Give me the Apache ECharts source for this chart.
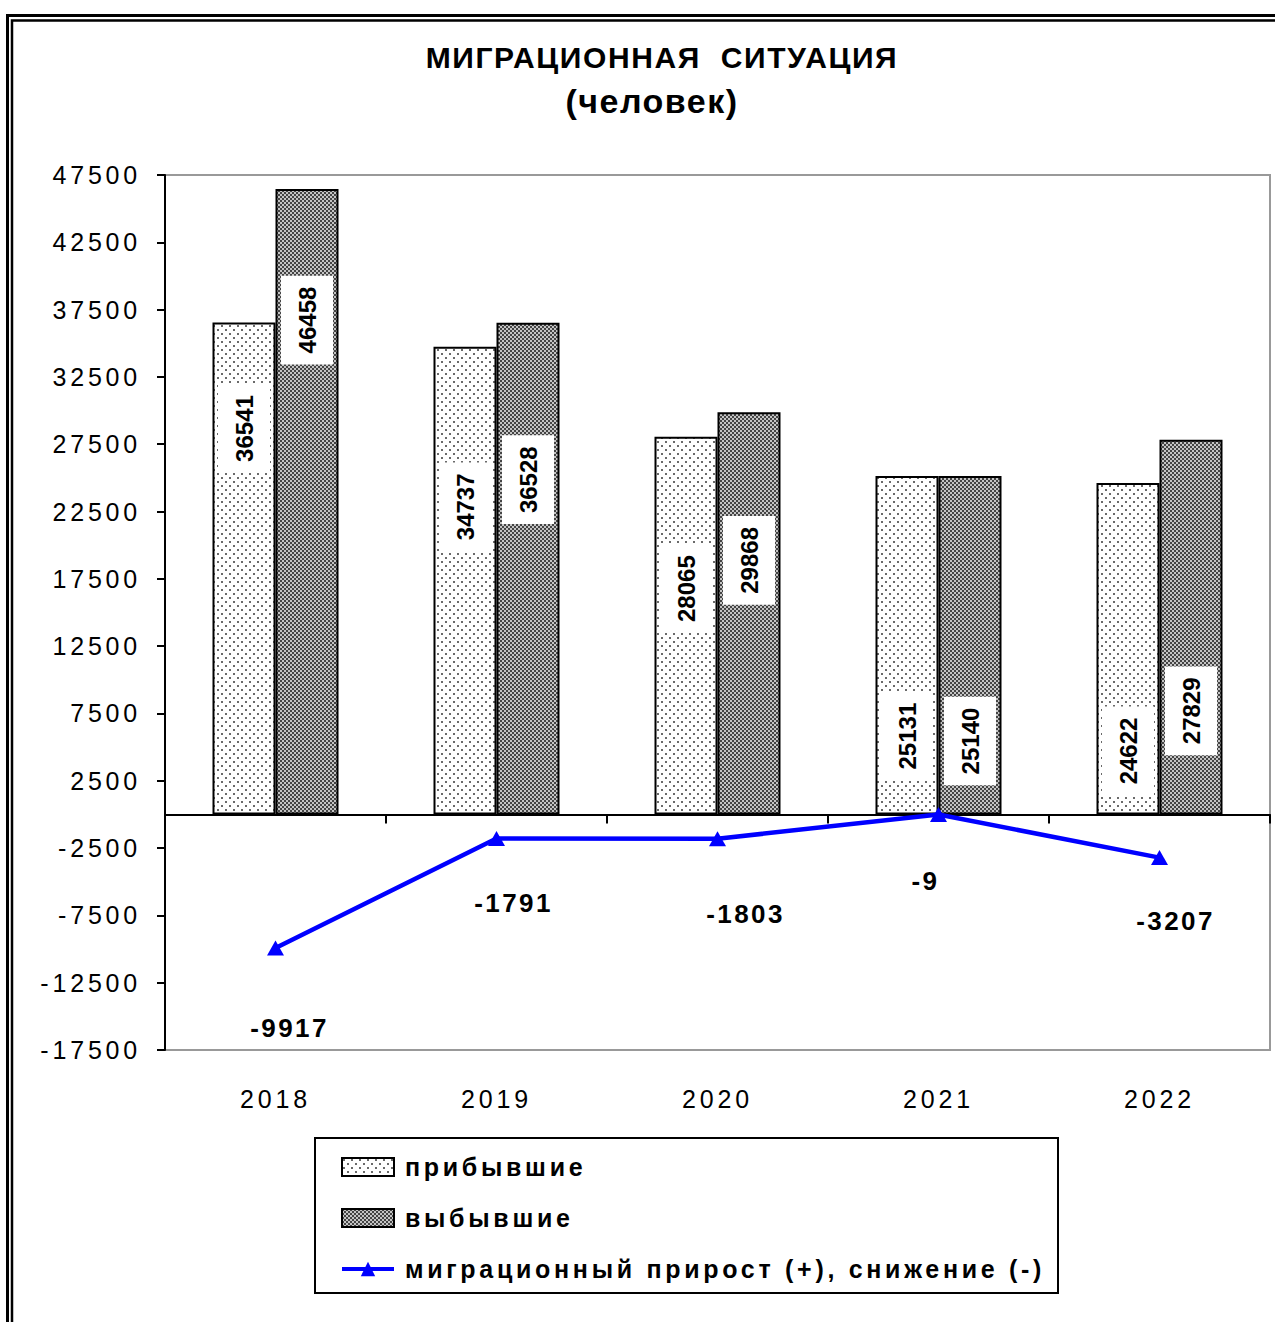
<!DOCTYPE html>
<html><head><meta charset="utf-8">
<script src="https://cdn.jsdelivr.net/npm/echarts@6/dist/echarts.min.js"></script>
<style>html,body{margin:0;padding:0;background:#fff}#chart{width:1275px;height:1322px}</style>
</head><body><div id="chart"></div>
<script>
// ---------- data ----------
const categories = ['2018', '2019', '2020', '2021', '2022'];
const arrived = [36541, 34737, 28065, 25131, 24622];
const departed = [46458, 36528, 29868, 25140, 27829];
const netMigration = [-9917, -1791, -1803, -9, -3207];
const yTickValues = [-17500, -12500, -7500, -2500, 2500, 7500, 12500, 17500, 22500, 27500, 32500, 37500, 42500, 47500];
const seriesNames = ['прибывшие', 'выбывшие', 'миграционный прирост (+), снижение (-)'];
const titleText = 'МИГРАЦИОННАЯ  СИТУАЦИЯ';
const subtitleText = '(человек)';

// ---------- label placement (style only) ----------
const arrivedLabelDrop = [106, 160, 152, 260, 268];
const departedLabelDrop = [131, 157, 148, 265, 271];
const netLabelOffset = [[14, 80], [17, 64], [28, 75], [-13, 66], [16, 63]];

const FONT = '"Liberation Sans", Arial, sans-serif';

function dotPattern() {
  const c = document.createElement('canvas'); c.width = 8; c.height = 8;
  const x = c.getContext('2d');
  x.fillStyle = '#ffffff'; x.fillRect(0, 0, 8, 8);
  x.fillStyle = '#6a6a6a'; x.fillRect(1, 1, 2, 2); x.fillRect(5, 5, 2, 2);
  return c;
}
function checkPattern() {
  const c = document.createElement('canvas'); c.width = 4; c.height = 4;
  const x = c.getContext('2d');
  x.fillStyle = '#c4c4c4'; x.fillRect(0, 0, 4, 4);
  x.fillStyle = '#444444'; x.fillRect(0, 0, 2, 2); x.fillRect(2, 2, 2, 2);
  return c;
}

function barLabel(drop) {
  return {
    show: true, rotate: 90, position: ['50%', drop], align: 'center', verticalAlign: 'middle',
    fontSize: 24, fontWeight: 'bold', fontFamily: FONT, color: '#000', lineHeight: 24,
    backgroundColor: '#ffffff', padding: [14, 11]
  };
}

const chart = echarts.init(document.getElementById('chart'), null, { renderer: 'svg' });
chart.setOption({
  animation: false,
  backgroundColor: '#ffffff',
  title: [
    { text: titleText, left: 662, top: 42, textAlign: 'center', padding: 0,
      textStyle: { fontSize: 30, fontWeight: 'bold', color: '#000', fontFamily: FONT } },
    { text: subtitleText, left: 652, top: 84, textAlign: 'center', padding: 0,
      textStyle: { fontSize: 34, fontWeight: 'bold', color: '#000', fontFamily: FONT } }
  ],
  grid: { left: 165, right: 5, top: 175, bottom: 272, show: true, borderColor: '#999', borderWidth: 2, containLabel: false },
  legend: {
    orient: 'vertical', left: 340, top: 1154, itemWidth: 52, itemHeight: 18, itemGap: 25, padding: 0,
    selectedMode: false,
    textStyle: { fontSize: 25, fontWeight: 'bold', color: '#000', fontFamily: FONT, lineHeight: 26, padding: [0, 0, 0, 6] },
    data: [
      { name: seriesNames[0], icon: 'rect' },
      { name: seriesNames[1], icon: 'rect' },
      { name: seriesNames[2], lineStyle: { width: 4, color: '#0000ff' } }
    ]
  },
  xAxis: [
    { type: 'category', data: categories, position: 'bottom',
      axisLine: { onZero: true, lineStyle: { color: '#000', width: 2 } },
      axisTick: { show: true, length: 9, lineStyle: { color: '#000', width: 2 } },
      axisLabel: { show: false }, splitLine: { show: false } },
    { type: 'category', data: categories, position: 'bottom',
      axisLine: { show: false, onZero: false }, axisTick: { show: false },
      axisLabel: { show: true, margin: 36, fontSize: 25, color: '#000', fontFamily: FONT },
      splitLine: { show: false } }
  ],
  yAxis: {
    type: 'value', min: -17500, max: 47500,
    axisLine: { show: true, lineStyle: { color: '#000', width: 2 } },
    axisTick: { show: true, length: 8, lineStyle: { color: '#000', width: 2 }, customValues: yTickValues },
    axisLabel: { show: true, margin: 24, fontSize: 25, color: '#000', fontFamily: FONT, customValues: yTickValues,
      formatter: v => String(v) },
    splitLine: { show: false }
  },
  graphic: [
    { type: 'rect', shape: { x: 7.5, y: 15.5, width: 1400, height: 1400 }, style: { fill: 'none', stroke: '#000', lineWidth: 3 }, silent: true },
    { type: 'rect', shape: { x: 12, y: 20.5, width: 1400, height: 1400 }, style: { fill: 'none', stroke: '#000', lineWidth: 2.5 }, silent: true },
    { type: 'rect', shape: { x: 315, y: 1138, width: 743, height: 155 }, style: { fill: 'none', stroke: '#000', lineWidth: 2 }, silent: true }
  ],
  series: [
    { name: seriesNames[0], type: 'bar', xAxisIndex: 0, barWidth: 63, barGap: '0%',
      itemStyle: { color: { image: dotPattern(), repeat: 'repeat' }, borderColor: '#000', borderWidth: 2 },
      data: arrived.map((v, i) => ({ value: v, label: barLabel(arrivedLabelDrop[i]) })) },
    { name: seriesNames[1], type: 'bar', xAxisIndex: 0, barWidth: 63, barGap: '0%',
      itemStyle: { color: { image: checkPattern(), repeat: 'repeat' }, borderColor: '#000', borderWidth: 2 },
      data: departed.map((v, i) => ({ value: v, label: barLabel(departedLabelDrop[i]) })) },
    { name: seriesNames[2], type: 'line', xAxisIndex: 0, z: 5,
      symbol: 'triangle', symbolSize: [17, 15], showAllSymbol: true,
      lineStyle: { color: '#0000ff', width: 4.5 }, itemStyle: { color: '#0000ff' },
      data: netMigration.map((v, i) => ({ value: v, label: {
        show: true, position: 'inside', offset: netLabelOffset[i], fontSize: 26, fontWeight: 'bold',
        color: '#000', fontFamily: FONT } })) }
  ]
});

function applySpacing() {
  document.querySelectorAll('#chart svg text').forEach(t => {
    const cs = getComputedStyle(t);
    const size = Math.round(parseFloat(cs.fontSize));
    const bold = cs.fontWeight === 'bold' || parseInt(cs.fontWeight, 10) >= 600;
    let s = 0;
    if (size === 30) s = 1.6;
    else if (size === 34) s = 1.5;
    else if (size === 25 && !bold) s = 3.8;
    else if (size === 25 && bold) s = 3.7;
    else if (size === 26) s = 2.4;
    t.setAttribute('letter-spacing', s + 'px');
  });
}
applySpacing();
chart.on('finished', applySpacing);
</script></body></html>
